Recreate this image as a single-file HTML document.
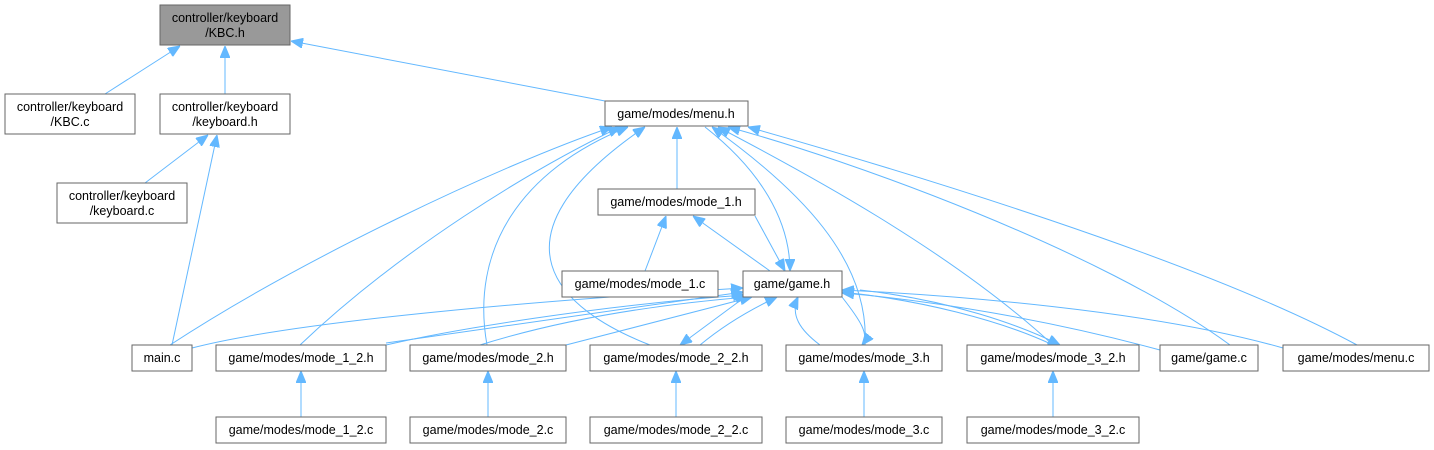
<!DOCTYPE html>
<html><head><meta charset="utf-8"><style>
body{margin:0;background:#fff;}
svg{display:block;font-family:"Liberation Sans",Arial,sans-serif;}
.n rect{fill:#fff;stroke:#666;stroke-width:1;}
text{font-size:12.5px;fill:#000;text-anchor:middle;}
path{fill:none;stroke:#63b8ff;stroke-width:1;}
</style></head><body>
<svg width="1434" height="450" viewBox="0 0 1434 450">
<defs><marker id="a" markerWidth="12" markerHeight="10" refX="12" refY="5" orient="auto" markerUnits="userSpaceOnUse"><path d="M0,0 L12,5 L0,10 Z" style="fill:#63b8ff;stroke:#63b8ff"/></marker></defs>
<g marker-end="url(#a)">
<path d="M105,94 L180,46"/>
<path d="M225,94 L225,46"/>
<path d="M605,101 L291,41"/>
<path d="M145,183 L208,135"/>
<path d="M172,345 L217,135"/>
<path d="M170,345 C300,260 500,165 612,127"/>
<path d="M300,345 C400,250 530,170 620,127"/>
<path d="M487,345 C470,250 520,170 628,127"/>
<path d="M650,345 C560,310 480,240 645,127"/>
<path d="M677,189 L677,127"/>
<path d="M705,127 C760,170 790,220 790,271"/>
<path d="M865,345 C870,260 800,190 712,127"/>
<path d="M1053,345 C950,250 800,170 718,127"/>
<path d="M1230,345 C1100,250 850,160 728,127"/>
<path d="M1357,345 C1200,260 900,170 748,127"/>
<path d="M645,271 L666,216"/>
<path d="M770,271 L693,216"/>
<path d="M755,216 L785,271"/>
<path d="M192,348 C300,320 550,300 743,288"/>
<path d="M386,343 L743,292"/>
<path d="M386,345 C450,330 600,305 745,295"/>
<path d="M566,345 L752,297"/>
<path d="M480,345 C560,320 650,305 748,297"/>
<path d="M745,297 L680,345"/>
<path d="M700,345 C730,320 760,305 777,297"/>
<path d="M842,297 C860,320 870,335 862,345"/>
<path d="M820,345 C800,330 790,315 798,297"/>
<path d="M1053,345 C1000,320 920,300 842,292"/>
<path d="M860,290 C950,300 1020,325 1060,345"/>
<path d="M1160,350 C1050,320 930,300 842,293"/>
<path d="M1283,348 C1150,310 950,295 842,290"/>
<path d="M301,417 L301,371"/>
<path d="M488,417 L488,371"/>
<path d="M676,417 L676,371"/>
<path d="M864,417 L864,371"/>
<path d="M1053,417 L1053,371"/>
</g>
<rect x="160" y="5" width="130" height="40" style="fill:#999;stroke:#666"/>
<text x="225" y="22">controller/keyboard</text><text x="225" y="37">/KBC.h</text>
<g class="n">
<rect x="5" y="94" width="130" height="40"/><rect x="160" y="94" width="130" height="40"/>
<rect x="57" y="183" width="130" height="40"/>
<rect x="605" y="101" width="143" height="25"/>
<rect x="598" y="189" width="157" height="26"/>
<rect x="562" y="271" width="156" height="26"/>
<rect x="743" y="271" width="99" height="26"/>
<rect x="132" y="345" width="60" height="26"/><rect x="216" y="345" width="170" height="26"/>
<rect x="410" y="345" width="156" height="26"/><rect x="590" y="345" width="172" height="26"/>
<rect x="786" y="345" width="156" height="26"/><rect x="967" y="345" width="172" height="26"/>
<rect x="1160" y="345" width="98" height="26"/><rect x="1283" y="345" width="146" height="26"/>
<rect x="216" y="417" width="170" height="26"/><rect x="410" y="417" width="156" height="26"/>
<rect x="590" y="417" width="172" height="26"/><rect x="786" y="417" width="156" height="26"/>
<rect x="967" y="417" width="172" height="26"/>
</g>
<text x="70" y="111">controller/keyboard</text><text x="70" y="126">/KBC.c</text>
<text x="225" y="111">controller/keyboard</text><text x="225" y="126">/keyboard.h</text>
<text x="122" y="200">controller/keyboard</text><text x="122" y="215">/keyboard.c</text>
<text x="676" y="118">game/modes/menu.h</text>
<text x="676" y="206">game/modes/mode_1.h</text>
<text x="640" y="288">game/modes/mode_1.c</text>
<text x="792" y="288">game/game.h</text>
<text x="162" y="362">main.c</text><text x="301" y="362">game/modes/mode_1_2.h</text>
<text x="488" y="362">game/modes/mode_2.h</text><text x="676" y="362">game/modes/mode_2_2.h</text>
<text x="864" y="362">game/modes/mode_3.h</text><text x="1053" y="362">game/modes/mode_3_2.h</text>
<text x="1209" y="362">game/game.c</text><text x="1356" y="362">game/modes/menu.c</text>
<text x="301" y="434">game/modes/mode_1_2.c</text><text x="488" y="434">game/modes/mode_2.c</text>
<text x="676" y="434">game/modes/mode_2_2.c</text><text x="864" y="434">game/modes/mode_3.c</text>
<text x="1053" y="434">game/modes/mode_3_2.c</text>
</svg>
</body></html>
